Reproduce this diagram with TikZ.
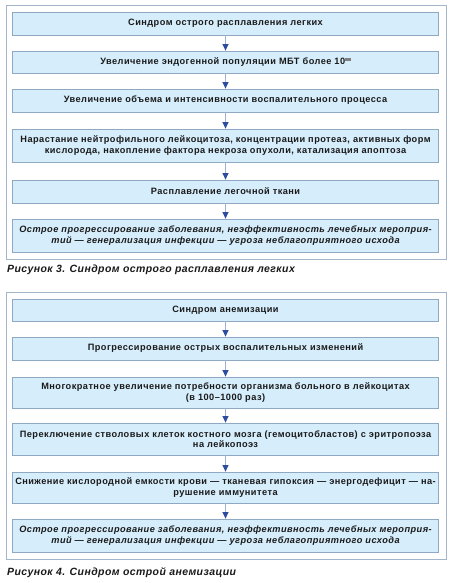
\documentclass[tikz,border=0pt]{standalone}
\usepackage{fontspec}
\setmainfont{Liberation Sans}
\usetikzlibrary{arrows.meta}
\definecolor{boxfill}{HTML}{D6EDFB}
\definecolor{boxline}{HTML}{8FA9C2}
\definecolor{frameline}{HTML}{A3B6C9}
\definecolor{arrline}{HTML}{9FB3D1}
\definecolor{arrhead}{HTML}{2B4C9F}
\definecolor{txt}{HTML}{1A1A1A}
\newcommand{\boxfont}{\fontsize{9.2}{10.5}\selectfont\bfseries\addfontfeatures{LetterSpace=5}}
\newcommand{\capfont}{\fontsize{10.5}{12}\selectfont\bfseries\itshape\addfontfeatures{LetterSpace=4}}
\tikzset{
  flowbox/.style={draw=boxline, fill=boxfill, line width=0.8pt, minimum width=426pt,
    inner sep=0pt, align=center, font=\boxfont, text=txt},
  italbox/.style={flowbox, font=\boxfont\itshape},
  frame/.style={draw=frameline, line width=1pt},
  flowarrow/.style={draw=arrline, line width=0.9pt,
    -{Triangle[fill=arrhead,color=arrhead,length=6.5pt,width=6pt]}},
  caption/.style={anchor=west, inner sep=0pt, font=\capfont, text=txt}
}
\begin{document}
\begin{tikzpicture}[x=1pt,y=-1pt]
\useasboundingbox[fill=white] (0,0) rectangle (452,583);
% Figure 3
\draw[frame] (6,6) rectangle (446,259);
\node[flowbox, minimum height=23pt] (a1) at (225.5,23.5) {Синдром острого расплавления легких};
\node[flowbox, minimum height=22pt] (a2) at (225.5,62) {Увеличение эндогенной популяции МБТ более 10\raisebox{3.5pt}{\textcolor{gray}{\rule{5.5pt}{2.5pt}}}};
\node[flowbox, minimum height=23pt] (a3) at (225.5,100.5) {Увеличение объема и интенсивности воспалительного процесса};
\node[flowbox, minimum height=33pt] (a4) at (225.5,145.5) {Нарастание нейтрофильного лейкоцитоза, концентрации протеаз, активных форм\\кислорода, накопление фактора некроза опухоли, катализация апоптоза};
\node[flowbox, minimum height=23pt] (a5) at (225.5,191.5) {Расплавление легочной ткани};
\node[italbox, minimum height=33pt] (a6) at (225.5,235.5) {Острое прогрессирование заболевания, неэффективность лечебных мероприя-\\тий — генерализация инфекции — угроза неблагоприятного исхода};
\draw[flowarrow] (a1) -- (a2);
\draw[flowarrow] (a2) -- (a3);
\draw[flowarrow] (a3) -- (a4);
\draw[flowarrow] (a4) -- (a5);
\draw[flowarrow] (a5) -- (a6);
\node[caption] (cap3) at (7,270) {Рисунок 3. Синдром острого расплавления легких};
% Figure 4
\draw[frame] (6,292) rectangle (446,559);
\node[flowbox, minimum height=22pt] (b1) at (225.5,310) {Синдром анемизации};
\node[flowbox, minimum height=23pt] (b2) at (225.5,348.5) {Прогрессирование острых воспалительных изменений};
\node[flowbox, minimum height=31pt] (b3) at (225.5,392.5) {Многократное увеличение потребности организма больного в лейкоцитах\\(в 100–1000 раз)};
\node[flowbox, minimum height=32pt] (b4) at (225.5,439) {Переключение стволовых клеток костного мозга (гемоцитобластов) с эритропоэза\\на лейкопоэз};
\node[flowbox, minimum height=31pt] (b5) at (225.5,487.5) {Снижение кислородной емкости крови — тканевая гипоксия — энергодефицит — на-\\рушение иммунитета};
\node[italbox, minimum height=33pt] (b6) at (225.5,535.5) {Острое прогрессирование заболевания, неэффективность лечебных мероприя-\\тий — генерализация инфекции — угроза неблагоприятного исхода};
\draw[flowarrow] (b1) -- (b2);
\draw[flowarrow] (b2) -- (b3);
\draw[flowarrow] (b3) -- (b4);
\draw[flowarrow] (b4) -- (b5);
\draw[flowarrow] (b5) -- (b6);
\node[caption] (cap4) at (7,573) {Рисунок 4. Синдром острой анемизации};
\end{tikzpicture}
\end{document}
